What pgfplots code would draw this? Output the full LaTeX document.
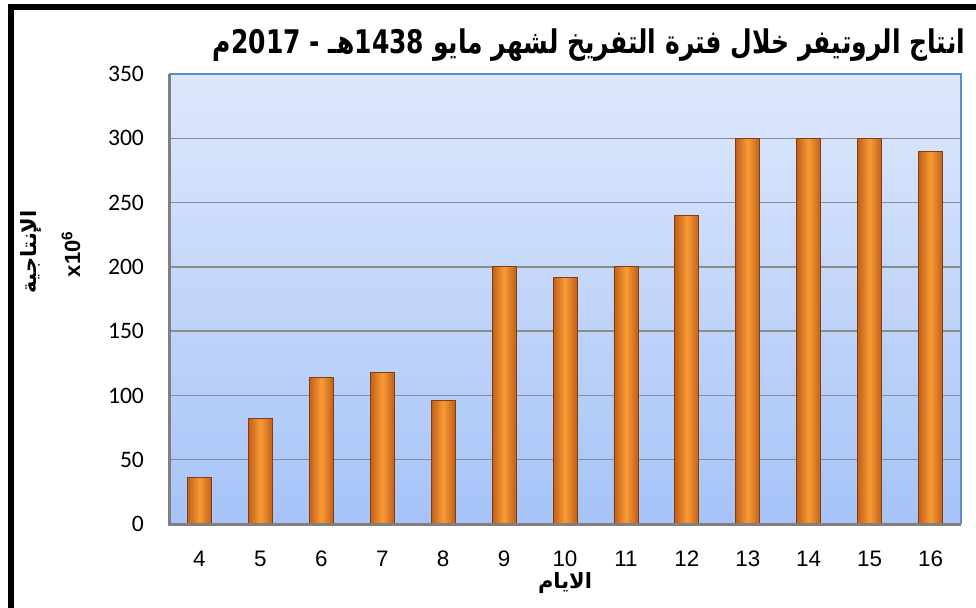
\documentclass[border=0pt]{standalone}
\usepackage{pgfplots}
\pgfplotsset{compat=1.18}
\usepackage{fontspec}
\usepackage{graphicx}
\setmainfont{Liberation Sans}
\newfontfamily\arabicfont[Script=Arabic]{DejaVu Sans}
\newfontfamily\carlito{Carlito}
\TeXXeTstate=1
\definecolor{bgtop}{HTML}{DEE8FC}
\definecolor{bgbot}{HTML}{A6C3F8}
\definecolor{gridc}{HTML}{8C8C8C}
\definecolor{axisg}{HTML}{808080}
\definecolor{boxb}{HTML}{5C8BD0}
\definecolor{bardark}{HTML}{C0601A}
\definecolor{barlight}{HTML}{FA9A35}
\definecolor{barline}{HTML}{7F3F0E}
\pgfplotsset{mybar/.style={ybar, bar width=12pt, bar shift=0pt, draw=barline, line width=0.4pt,
  left color=bardark, right color=bardark, middle color=barlight, forget plot}}
\begin{document}
\begin{tikzpicture}
\useasboundingbox (0,0) rectangle (488pt,-303.5pt);
\draw[line width=3pt] (5.5pt,-310pt) -- (5.5pt,-3.25pt) -- (495pt,-3.25pt);
\begin{axis}[
  at={(84.5pt,-262pt)}, anchor=south west,
  scale only axis, width=396pt, height=225pt,
  xmin=3.5, xmax=16.5, ymin=0, ymax=350,
  xtick={4,...,16}, ytick={0,50,...,350},
  major tick length=0pt,
  /pgf/number format/assume math mode=true,
  axis background/.style={top color=bgtop, bottom color=bgbot},
  axis line style={draw=none},
  ymajorgrids, grid style={gridc, line width=0.75pt},
  xticklabel style={font=\fontsize{11.2}{12}\selectfont, yshift=-10pt},
  yticklabel style={font=\carlito\fontsize{11.8}{12}\selectfont, xshift=-9pt},
  clip=false,
]
\addplot[mybar] coordinates {(4,36)};
\addplot[mybar] coordinates {(5,82)};
\addplot[mybar] coordinates {(6,114)};
\addplot[mybar] coordinates {(7,118)};
\addplot[mybar] coordinates {(8,96)};
\addplot[mybar] coordinates {(9,200)};
\addplot[mybar] coordinates {(10,192)};
\addplot[mybar] coordinates {(11,200)};
\addplot[mybar] coordinates {(12,240)};
\addplot[mybar] coordinates {(13,300)};
\addplot[mybar] coordinates {(14,300)};
\addplot[mybar] coordinates {(15,300)};
\addplot[mybar] coordinates {(16,290)};
\draw[boxb, line width=1pt] (rel axis cs:0,1) -- (rel axis cs:1,1) -- (rel axis cs:1,0);
\draw[axisg, line width=1.5pt] (rel axis cs:0,1) -- (rel axis cs:0,0) -- (rel axis cs:1,0);
\end{axis}
\node at (294.5pt,-22.5pt) {\resizebox{376pt}{!}{\scalebox{1}[1.3]{\arabicfont\bfseries\fontsize{13}{15}\selectfont\beginR انتاج الروتيفر خلال فترة التفريخ لشهر مايو \beginL1438\endL هـ - \beginL2017\endL م\endR}}};
\node at (282.5pt,-291.5pt) {\arabicfont\bfseries\fontsize{10.5}{12}\selectfont\beginR الايام\endR};
\node[rotate=90] at (15.5pt,-126pt) {\arabicfont\bfseries\fontsize{10.5}{12}\selectfont\beginR الإنتاجية\endR};
\node[rotate=90] at (35.5pt,-127pt) {\bfseries\fontsize{11}{12}\selectfont x10$^{\mathbf{6}}$};
\end{tikzpicture}
\end{document}
